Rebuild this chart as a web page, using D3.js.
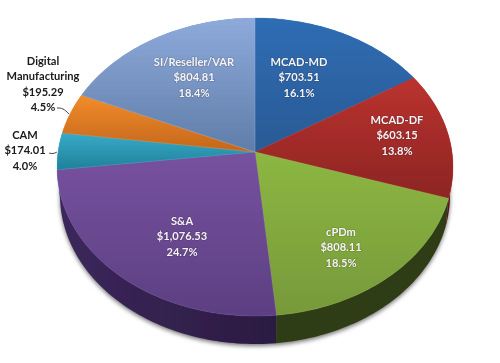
<!DOCTYPE html>
<html lang="en">
<head>
    <meta charset="UTF-8">
    <title>Pie</title>
    <script src="https://d3js.org/d3.v7.min.js"></script>
    <style>
        * { margin: 0; padding: 0; }
        body { background: #fff; overflow: hidden; }
        svg { display: block; }
        text { font-family: Lato, "Open Sans", sans-serif; font-weight: 700; font-size: 11.1px; text-anchor: middle; }
    </style>
</head>
<body>
    <div id="chart"></div>
    <script>
        const categories = ["MCAD-MD", "MCAD-DF", "cPDm", "S&A", "CAM", "Digital Manufacturing", "SI/Reseller/VAR"];
        const values = [703.51, 603.15, 808.11, 1076.53, 174.01, 195.29, 804.81];
        const valueLabels = ["$703.51", "$603.15", "$808.11", "$1,076.53", "$174.01", "$195.29", "$804.81"];
        const percentLabels = ["16.1%", "13.8%", "18.5%", "24.7%", "4.0%", "4.5%", "18.4%"];
        const topColors = ["#2f6db4", "#bb322f", "#8cb742", "#77529f", "#38abc9", "#f28c2c", "#8eaadb"];
        const bottomColors = ["#2a5a94", "#8c2523", "#77993a", "#5c3f82", "#20809a", "#c4661b", "#5f7da8"];
        const sideColors = ["#1d3f69", "#6b1c1b", "#2f3d15", "#2f1e48", "#17596b", "#874813", "#445a7a"];

        const width = 500, height = 363;
        const cx = 255, cy = 152;       // apex of the pie
        const A = 197, B = 147.5, k = 0.1007;   // perspective of the disc
        const depth = 28;
        const lowerScale = 0.985;       // lower rim is a little narrower

        const svg = d3.select("#chart").append("svg")
            .attr("width", width).attr("height", height);
        const defs = svg.append("defs");

        defs.append("filter").attr("id", "shadow")
            .attr("x", "-10%").attr("y", "-10%").attr("width", "120%").attr("height", "120%")
            .append("feGaussianBlur").attr("stdDeviation", 2);
        defs.append("filter").attr("id", "soft")
            .append("feGaussianBlur").attr("stdDeviation", 0.45);

        // point on the rim for a pie angle (0 = top, clockwise)
        function rim(angle, dy = 0, sx = 1) {
            const w = 1 + k * Math.cos(angle);
            return [cx + sx * A * Math.sin(angle) / w, cy - B * Math.cos(angle) / w + dy];
        }
        function arcPoints(a0, a1, dy = 0, sx = 1) {
            const n = Math.max(2, Math.ceil((a1 - a0) / 0.02));
            return d3.range(n + 1).map(i => rim(a0 + (a1 - a0) * i / n, dy, sx));
        }

        const line = d3.line();
        const pie = d3.pie().sort(null)(values);

        const g = svg.append("g").attr("filter", "url(#soft)");

        // soft shadow under the disc
        g.append("path")
            .attr("d", line(arcPoints(0, Math.PI * 2, depth + 2, lowerScale)) + "Z")
            .attr("fill", "#777")
            .attr("filter", "url(#shadow)");

        // side wall
        pie.forEach((d, i) => {
            const top = arcPoints(d.startAngle, d.endAngle);
            const bottom = arcPoints(d.startAngle, d.endAngle, depth, lowerScale).reverse();
            const grad = defs.append("linearGradient").attr("id", `side${i}`)
                .attr("gradientUnits", "userSpaceOnUse")
                .attr("x1", 60).attr("y1", 0).attr("x2", 300).attr("y2", 0);
            grad.append("stop").attr("offset", 0).attr("stop-color", d3.color(sideColors[i]).brighter(0.7));
            grad.append("stop").attr("offset", 1).attr("stop-color", d3.color(sideColors[i]).darker(0.4));
            g.append("path")
                .attr("d", line(top.concat(bottom)) + "Z")
                .attr("fill", i === 2 ? sideColors[i] : `url(#side${i})`);
        });

        // top face
        pie.forEach((d, i) => {
            const pts = arcPoints(d.startAngle, d.endAngle).concat([[cx, cy]]);
            const grad = defs.append("linearGradient").attr("id", `top${i}`)
                .attr("gradientUnits", "userSpaceOnUse")
                .attr("x1", 0).attr("y1", d3.min(pts, p => p[1]))
                .attr("x2", 0).attr("y2", d3.max(pts, p => p[1]));
            grad.append("stop").attr("offset", 0).attr("stop-color", topColors[i]);
            grad.append("stop").attr("offset", 1).attr("stop-color", bottomColors[i]);
            g.append("path")
                .attr("d", line([[cx, cy]].concat(arcPoints(d.startAngle, d.endAngle))) + "Z")
                .attr("fill", `url(#top${i})`)
                .attr("stroke", d3.color(topColors[i]).brighter(0.4))
                .attr("stroke-width", 0.5)
                .attr("stroke-opacity", 0.6);
        });

        // leader lines
        const curve = d3.line().curve(d3.curveBasis);
        [[[57, 108], [63, 108], [69, 114]], [[49, 153], [53, 154], [57, 152]]].forEach(p => {
            g.append("path").attr("d", curve(p))
                .attr("fill", "none").attr("stroke", "#333").attr("stroke-width", 0.9);
        });

        // labels: x of the block and y of the first line
        const labelX = [299, 397, 341, 182, 25, 43, 194];
        const labelY = [66, 124, 236, 225, 139, 65, 66];
        const lineGap = 15.4;

        categories.forEach((name, i) => {
            const dark = i === 4 || i === 5;
            const lines = i === 5
                ? ["Digital", "Manufacturing", valueLabels[i], percentLabels[i]]
                : [name, valueLabels[i], percentLabels[i]];
            const text = g.append("text")
                .attr("fill", dark ? "#1a1a1a" : "#f6f3f6")
                .style("paint-order", "stroke");
            if (!dark) text.attr("stroke", "#000").attr("stroke-opacity", 0.18).attr("stroke-width", 1.2);
            lines.forEach((s, j) => {
                text.append("tspan")
                    .attr("x", labelX[i])
                    .attr("y", labelY[i] + j * lineGap)
                    .text(s);
            });
        });
    </script>
</body>
</html>
